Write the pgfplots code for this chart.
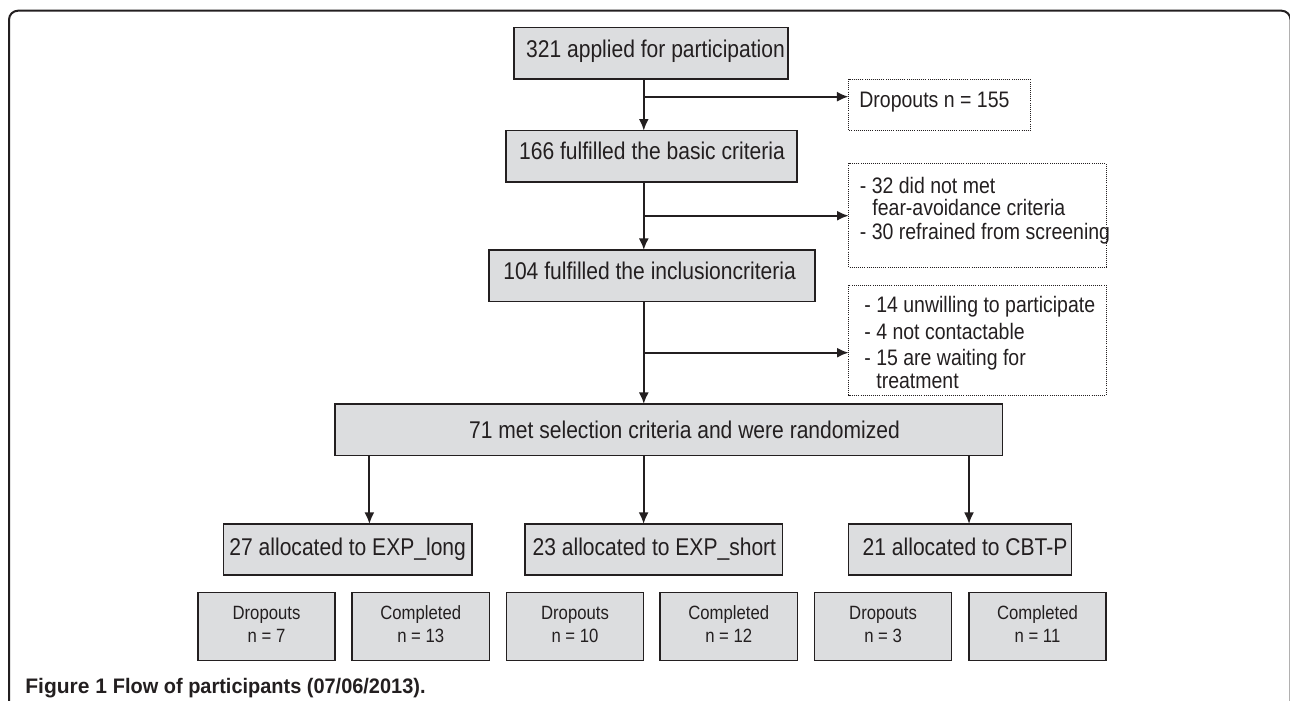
\documentclass[border=0pt]{standalone}
\usepackage{fontspec}
\setmainfont{Liberation Sans}
\newfontfamily\condfont{Liberation Sans}[FakeStretch=0.87]
\newfontfamily\capsemi{Liberation Sans}[FakeStretch=0.95]
\usepackage{pgfplots}
\pgfplotsset{compat=1.18}
\usetikzlibrary{arrows.meta}
\definecolor{boxfill}{RGB}{220,221,223}
\definecolor{ink}{RGB}{35,31,32}
\newcommand{\gbox}[4]{\draw[ink, line width=0.75pt, fill=boxfill] (axis cs:#1,#2) rectangle (axis cs:#3,#4);}
\newcommand{\dbox}[4]{\draw[ink, line width=0.45pt, dash pattern=on 0.5pt off 0.55pt] (axis cs:#1,#2) rectangle (axis cs:#3,#4);}
\newcommand{\arr}[4]{\draw[ink, line width=1pt, -{Latex[length=5.8pt,width=5pt]}] (axis cs:#1,#2) -- (axis cs:#3,#4);}
\newcommand{\lin}[4]{\draw[ink, line width=1pt] (axis cs:#1,#2) -- (axis cs:#3,#4);}
\newcommand{\mainfs}{\condfont\fontsize{12.1}{14.5}\selectfont}
\newcommand{\dotfs}{\condfont\fontsize{11.2}{13.4}\selectfont}
\newcommand{\smallfs}{\condfont\fontsize{9.6}{11.5}\selectfont}
\begin{document}
\begin{tikzpicture}
\begin{axis}[scale only axis, width=645pt, height=350.5pt,
  xmin=0, xmax=1290, ymin=0, ymax=701, y dir=reverse,
  hide axis, clip=false]
\coordinate (TL) at (axis cs:0,0);
\coordinate (BR) at (axis cs:1290,701);
% outer frame
\draw[ink, line width=1pt, rounded corners=4.5pt] (axis cs:9,710) -- (axis cs:9,10.7) -- (axis cs:1290.5,10.7) -- (axis cs:1290.5,710);
% main vertical flow
\lin{643.8}{79}{643.8}{96.7}
\arr{643.8}{96.7}{643.8}{130.7}
\arr{643.8}{96.7}{848.5}{96.7}
\lin{643.8}{182}{643.8}{215.7}
\arr{643.8}{215.7}{643.8}{250}
\arr{643.8}{215.7}{848.7}{215.7}
\lin{643.8}{301.7}{643.8}{352.7}
\arr{643.8}{352.7}{643.8}{404}
\arr{643.8}{352.7}{848.7}{352.7}
\arr{369.4}{455.7}{369.4}{524}
\arr{643.6}{455.7}{643.6}{524}
\arr{969}{455.7}{969}{524}
% grey boxes
\gbox{514}{27.7}{788}{79}
\gbox{506}{130.7}{797}{182}
\gbox{489}{250}{815}{301.7}
\gbox{335}{404}{1002.7}{455.7}
\gbox{223.4}{524}{472}{575}
\gbox{525}{524}{782.7}{575}
\gbox{848.4}{524}{1071.6}{575}
\gbox{198}{592.3}{335}{660.7}
\gbox{352.2}{592.3}{489.3}{660.7}
\gbox{506.5}{592.3}{643.6}{660.7}
\gbox{660.2}{592.3}{797.3}{660.7}
\gbox{814.6}{592.3}{951.7}{660.7}
\gbox{969}{592.3}{1106}{660.7}
% dotted boxes
\dbox{848.5}{79}{1030}{130.7}
\dbox{848.7}{163.3}{1106}{267.3}
\dbox{848.7}{285}{1106}{395}
% main texts
\begin{scope}[every node/.style={text=ink, inner sep=0pt, font=\mainfs, anchor=base}]
\node at (axis cs:655.5,58) {321 applied for participation};
\node at (axis cs:652,160) {166 fulfilled the basic criteria};
\node at (axis cs:649.6,279) {104 fulfilled the inclusioncriteria};
\node at (axis cs:684.5,438.5) {71 met selection criteria and were randomized};
\node at (axis cs:347.7,555) {27 allocated to EXP\_long};
\node at (axis cs:654.4,555) {23 allocated to EXP\_short};
\node at (axis cs:965.1,555) {21 allocated to CBT-P};
\end{scope}
% dotted box texts
\begin{scope}[every node/.style={text=ink, inner sep=0pt, font=\dotfs, anchor=base west}]
\node at (axis cs:859,108) {Dropouts n = 155};
\node at (axis cs:859.5,193) {- 32 did not met};
\node at (axis cs:872,215.7) {fear-avoidance criteria};
\node at (axis cs:859.5,239) {- 30 refrained from screening};
\node at (axis cs:864,312) {- 14 unwilling to participate};
\node at (axis cs:864,339) {- 4 not contactable};
\node at (axis cs:864,365.7) {- 15 are waiting for};
\node at (axis cs:876,388.3) {treatment};
\end{scope}
% bottom box texts
\begin{scope}[every node/.style={text=ink, inner sep=0pt, font=\smallfs, anchor=base}]
\node at (axis cs:266.5,619) {Dropouts};
\node at (axis cs:266.5,642) {n = 7};
\node at (axis cs:420.7,619) {Completed};
\node at (axis cs:420.7,642) {n = 13};
\node at (axis cs:575,619) {Dropouts};
\node at (axis cs:575,642) {n = 10};
\node at (axis cs:728.7,619) {Completed};
\node at (axis cs:728.7,642) {n = 12};
\node at (axis cs:883.1,619) {Dropouts};
\node at (axis cs:883.1,642) {n = 3};
\node at (axis cs:1037.5,619) {Completed};
\node at (axis cs:1037.5,642) {n = 11};
\end{scope}
% caption
\node[anchor=base west, inner sep=0pt, text=ink, font=\fontsize{10.5}{12.6}\selectfont] at (axis cs:25,693) {\textbf{Figure 1} {\capsemi\bfseries Flow of participants (07/06/2013).}};
\end{axis}
\pgfresetboundingbox
\path[use as bounding box] (TL) rectangle (BR);
\end{tikzpicture}
\end{document}
